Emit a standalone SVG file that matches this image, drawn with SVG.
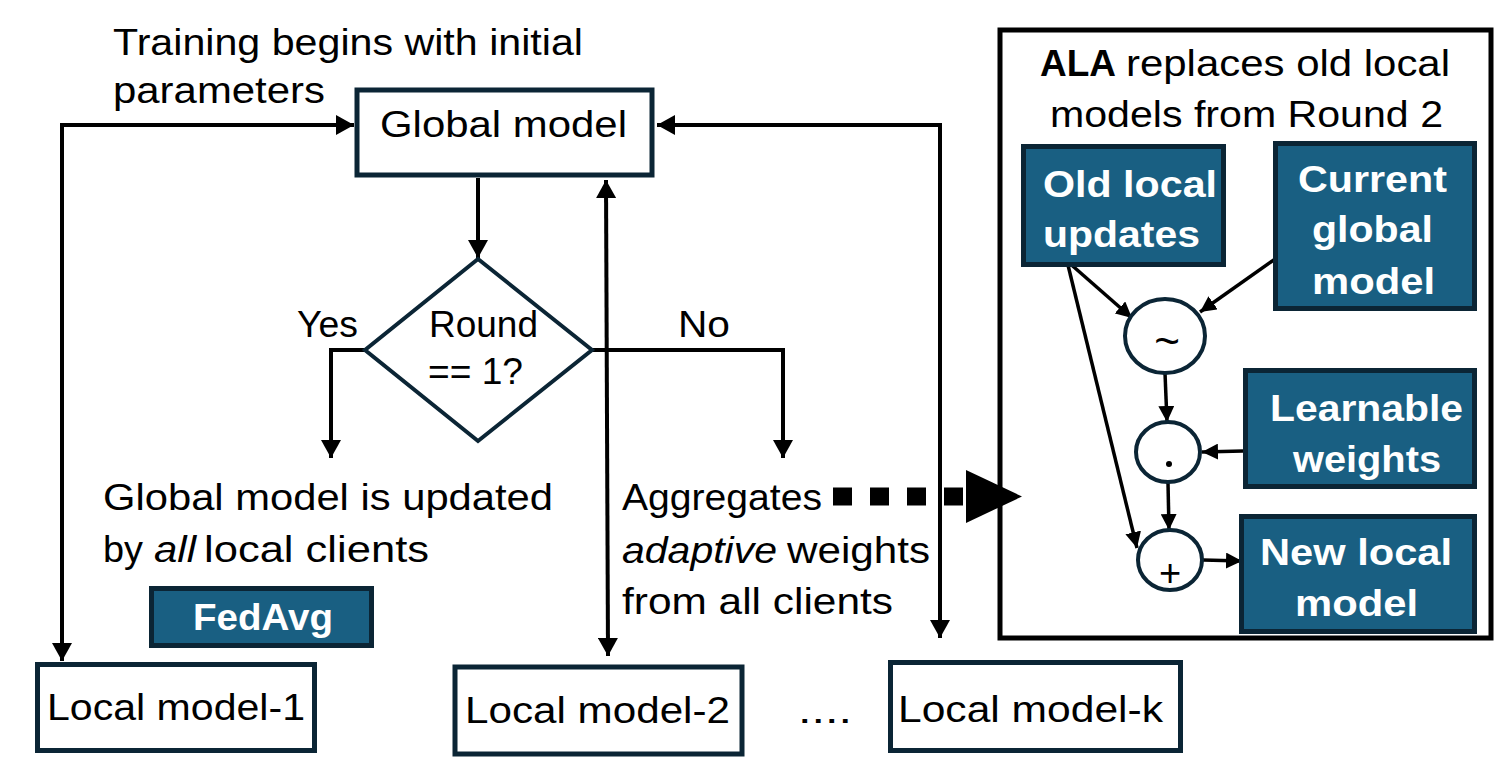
<svg xmlns="http://www.w3.org/2000/svg" width="1504" height="763" viewBox="0 0 1504 763">
<defs>
<style>
.t{font-family:"Liberation Sans",Arial,sans-serif;font-size:36px;fill:#000}
.b{font-family:"Liberation Sans",Arial,sans-serif;font-size:37px;font-weight:bold;fill:#fff}
.i{font-style:italic}
.sym{font-family:"Liberation Sans",Arial,sans-serif;fill:#000;text-anchor:middle}
.box{fill:#fff;stroke:#0b2535;stroke-width:5}
.dbox{fill:#195f82;stroke:#0b2535;stroke-width:5}
.op{fill:#fff;stroke:#0b2535;stroke-width:4}
.c{fill:none;stroke:#000;stroke-width:4}
.cs{fill:none;stroke:#000;stroke-width:3.5}
</style>
<marker id="ah" viewBox="0 0 18 20" refX="18" refY="10" markerWidth="18" markerHeight="20" markerUnits="userSpaceOnUse" orient="auto-start-reverse">
<path d="M0,0 L18,10 L0,20 z" fill="#000"/>
</marker>
<marker id="as" viewBox="0 0 16 16" refX="16" refY="8" markerWidth="16" markerHeight="16" markerUnits="userSpaceOnUse" orient="auto">
<path d="M0,0 L16,8 L0,16 z" fill="#000"/>
</marker>
</defs>
<rect width="1504" height="763" fill="#fff"/>

<g id="connectors">
<path class="c" d="M62,661 L62,125 L354,125" marker-start="url(#ah)" marker-end="url(#ah)"/>
<path class="c" d="M940,638 L940,125 L657,125" marker-end="url(#ah)" marker-start="url(#ah)"/>
<path class="c" d="M606,180 L608,656" marker-start="url(#ah)" marker-end="url(#ah)"/>
<path class="c" d="M478,178 L478,258" marker-end="url(#ah)"/>
<path class="c" d="M366,350 L331,350 L331,458" marker-end="url(#ah)"/>
<path class="c" d="M592,350 L783,350 L783,458" marker-end="url(#ah)"/>
<line x1="833" y1="496.5" x2="966" y2="496.5" stroke="#000" stroke-width="18" stroke-dasharray="19 18"/>
<polygon points="966,470 1022,496.5 966,523" fill="#000"/>
<path class="cs" d="M1067,261 L1132,318" marker-end="url(#as)"/>
<path class="cs" d="M1067,261 L1137,548" marker-end="url(#as)"/>
<path class="cs" d="M1278,257 L1200,312" marker-end="url(#as)"/>
<path class="cs" d="M1165,373 L1167,422" marker-end="url(#as)"/>
<path class="cs" d="M1243,451 L1202,452" marker-end="url(#as)"/>
<path class="cs" d="M1168,483 L1169,530" marker-end="url(#as)"/>
<path class="cs" d="M1203,560 L1242,561" marker-end="url(#as)"/>
</g>

<g id="start-label">
<text class="t" x="113" y="55" textLength="470" lengthAdjust="spacingAndGlyphs">Training begins with initial</text>
<text class="t" x="113" y="103" textLength="212" lengthAdjust="spacingAndGlyphs">parameters</text>
</g>

<g id="global-model">
<rect class="box" x="357" y="90" width="295" height="85"/>
<text class="t" x="380" y="137" textLength="247" lengthAdjust="spacingAndGlyphs">Global model</text>
</g>

<g id="decision">
<polygon points="478,259 592,350 478,441 365,350" fill="#fff" stroke="#0b2535" stroke-width="4"/>
<text class="t" x="429" y="337" textLength="109" lengthAdjust="spacingAndGlyphs">Round</text>
<text class="t" x="428" y="384" textLength="95" lengthAdjust="spacingAndGlyphs">== 1?</text>
</g>

<g id="label-yes">
<text class="t" x="297" y="337" textLength="61" lengthAdjust="spacingAndGlyphs">Yes</text>
</g>
<g id="label-no">
<text class="t" x="678" y="337" textLength="52" lengthAdjust="spacingAndGlyphs">No</text>
</g>

<g id="yes-text">
<text class="t" x="103" y="510" textLength="450" lengthAdjust="spacingAndGlyphs">Global model is updated</text>
<text class="t" x="103" y="562" textLength="40" lengthAdjust="spacingAndGlyphs">by</text>
<text class="t i" x="154" y="562" textLength="42" lengthAdjust="spacingAndGlyphs">all</text>
<text class="t" x="204" y="562" textLength="225" lengthAdjust="spacingAndGlyphs">local clients</text>
</g>

<g id="fedavg">
<rect class="dbox" x="151.5" y="588.5" width="220" height="57"/>
<text class="b" x="193" y="630" textLength="140" lengthAdjust="spacingAndGlyphs">FedAvg</text>
</g>

<g id="no-text">
<text class="t" x="622" y="510" textLength="200" lengthAdjust="spacingAndGlyphs">Aggregates</text>
<text class="t i" x="622" y="563" textLength="155" lengthAdjust="spacingAndGlyphs">adaptive</text>
<text class="t" x="787" y="563" textLength="143" lengthAdjust="spacingAndGlyphs">weights</text>
<text class="t" x="622" y="614" textLength="271" lengthAdjust="spacingAndGlyphs">from all clients</text>
</g>

<g id="local-1">
<rect class="box" x="37.5" y="664.5" width="277" height="86"/>
<text class="t" x="47" y="720" textLength="258" lengthAdjust="spacingAndGlyphs">Local model-1</text>
</g>
<g id="local-2">
<rect class="box" x="455" y="667" width="287" height="87"/>
<text class="t" x="465" y="723" textLength="265" lengthAdjust="spacingAndGlyphs">Local model-2</text>
</g>
<g id="ellipsis">
<text class="t" x="798" y="723" textLength="54" lengthAdjust="spacingAndGlyphs">....</text>
</g>
<g id="local-k">
<rect class="box" x="890.5" y="662.5" width="290" height="88"/>
<text class="t" x="898" y="722" textLength="265" lengthAdjust="spacingAndGlyphs">Local model-k</text>
</g>

<g id="ala-panel">
<rect x="1000" y="30" width="491" height="608" fill="none" stroke="#000" stroke-width="5"/>
<text class="t" x="1040" y="76" style="font-weight:bold" textLength="76" lengthAdjust="spacingAndGlyphs">ALA</text>
<text class="t" x="1126" y="76" textLength="324" lengthAdjust="spacingAndGlyphs">replaces old local</text>
<text class="t" x="1050" y="127" textLength="393" lengthAdjust="spacingAndGlyphs">models from Round 2</text>
</g>

<g id="old-local">
<rect class="dbox" x="1023.5" y="146.5" width="200" height="118"/>
<text class="b" x="1043" y="197" textLength="174" lengthAdjust="spacingAndGlyphs">Old local</text>
<text class="b" x="1043" y="247" textLength="157" lengthAdjust="spacingAndGlyphs">updates</text>
</g>

<g id="current-global">
<rect class="dbox" x="1275.5" y="143.5" width="199" height="165"/>
<text class="b" x="1298" y="192" textLength="149" lengthAdjust="spacingAndGlyphs">Current</text>
<text class="b" x="1312" y="242" textLength="121" lengthAdjust="spacingAndGlyphs">global</text>
<text class="b" x="1312" y="294" textLength="123" lengthAdjust="spacingAndGlyphs">model</text>
</g>

<g id="op-similar">
<ellipse class="op" cx="1165" cy="336" rx="40" ry="37"/>
<text class="sym" x="1167" y="356" style="font-size:44px">~</text>
</g>

<g id="op-dot">
<ellipse class="op" cx="1168" cy="452" rx="32" ry="30"/>
<circle cx="1169" cy="464" r="3" fill="#000"/>
</g>

<g id="op-plus">
<ellipse class="op" cx="1170" cy="560" rx="32" ry="30"/>
<text class="sym" x="1170" y="586" style="font-size:38px">+</text>
</g>

<g id="learnable">
<rect class="dbox" x="1245.5" y="370.5" width="229" height="116"/>
<text class="b" x="1270" y="421" textLength="193" lengthAdjust="spacingAndGlyphs">Learnable</text>
<text class="b" x="1293" y="472" textLength="148" lengthAdjust="spacingAndGlyphs">weights</text>
</g>

<g id="new-local">
<rect class="dbox" x="1241.5" y="516.5" width="233" height="115"/>
<text class="b" x="1260" y="565" textLength="192" lengthAdjust="spacingAndGlyphs">New local</text>
<text class="b" x="1295" y="616" textLength="123" lengthAdjust="spacingAndGlyphs">model</text>
</g>
</svg>
